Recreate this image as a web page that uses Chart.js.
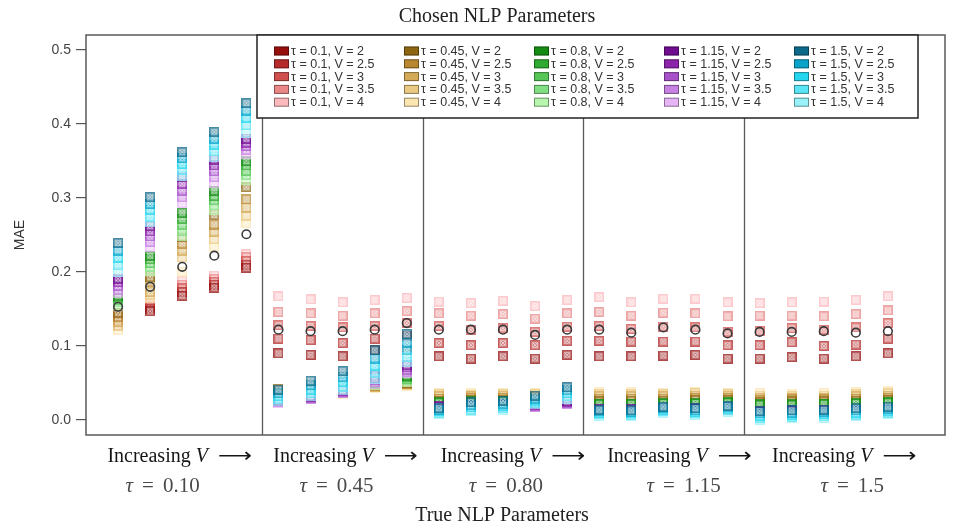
<!DOCTYPE html>
<html><head><meta charset="utf-8">
<script src="https://cdn.jsdelivr.net/npm/chart.js@4.4.1/dist/chart.umd.min.js"></script>
<style>html,body{margin:0;padding:0;background:#fff;} #wrap{width:957px;height:526px;}</style>
</head><body><div id="wrap"><canvas id="c" width="957" height="526"></canvas></div>
<script>
// ---------- DATA ----------
const tauValues = ['0.1', '0.45', '0.8', '1.15', '1.5'];       // chosen tau (legend)
const vValues = ['2', '2.5', '3', '3.5', '4'];                 // chosen V (legend)
const trueTauLabels = ['0.10', '0.45', '0.80', '1.15', '1.5']; // true tau (x groups)
const yTickValues = [0, 0.1, 0.2, 0.3, 0.4, 0.5];
// columns 0..24 : true tau group (5) x increasing true V (5)
// rows: chosen V = 2, 2.5, 3, 3.5, 4
const maeTau010 = [
  [0.128,0.147,0.168,0.179,0.206, 0.090,0.088,0.086,0.095,0.095, 0.086,0.083,0.086,0.083,0.088, 0.086,0.086,0.087,0.088,0.083, 0.083,0.085,0.083,0.086,0.090],
  [0.131,0.150,0.173,0.183,0.210, 0.110,0.108,0.104,0.110,0.113, 0.104,0.101,0.104,0.101,0.107, 0.107,0.106,0.106,0.106,0.101, 0.101,0.105,0.100,0.102,0.110],
  [0.134,0.153,0.178,0.187,0.215, 0.128,0.127,0.125,0.127,0.131, 0.127,0.122,0.124,0.119,0.126, 0.127,0.123,0.126,0.125,0.119, 0.120,0.124,0.122,0.125,0.131],
  [0.137,0.156,0.183,0.191,0.220, 0.146,0.144,0.141,0.144,0.147, 0.144,0.141,0.143,0.137,0.144, 0.146,0.141,0.145,0.144,0.140, 0.141,0.141,0.140,0.143,0.148],
  [0.140,0.159,0.188,0.195,0.224, 0.167,0.163,0.159,0.162,0.165, 0.160,0.158,0.161,0.154,0.162, 0.166,0.159,0.164,0.164,0.159, 0.158,0.159,0.160,0.162,0.167]
];
const maeTau045 = [
  [0.145,0.193,0.247,0.277,0.315, 0.042,0.040,0.042,0.048,0.050, 0.026,0.027,0.027,0.028,0.027, 0.025,0.026,0.026,0.027,0.027, 0.024,0.025,0.025,0.026,0.027],
  [0.139,0.187,0.238,0.264,0.298, 0.038,0.037,0.040,0.046,0.049, 0.029,0.030,0.030,0.031,0.030, 0.029,0.029,0.029,0.030,0.030, 0.027,0.028,0.028,0.029,0.030],
  [0.133,0.173,0.229,0.254,0.287, 0.035,0.035,0.038,0.045,0.048, 0.032,0.032,0.033,0.033,0.032, 0.032,0.032,0.032,0.033,0.033, 0.030,0.030,0.030,0.032,0.033],
  [0.127,0.169,0.220,0.244,0.276, 0.032,0.033,0.036,0.044,0.047, 0.035,0.034,0.035,0.035,0.034, 0.035,0.035,0.035,0.036,0.035, 0.033,0.032,0.033,0.035,0.036],
  [0.121,0.165,0.200,0.234,0.266, 0.030,0.031,0.035,0.043,0.046, 0.037,0.036,0.037,0.036,0.036, 0.038,0.038,0.037,0.038,0.036, 0.036,0.035,0.036,0.038,0.039]
];
const maeTau080 = [
  [0.168,0.222,0.280,0.310,0.350, 0.030,0.034,0.042,0.052,0.060, 0.024,0.025,0.025,0.026,0.027, 0.022,0.022,0.023,0.023,0.024, 0.021,0.021,0.022,0.023,0.024],
  [0.165,0.217,0.272,0.303,0.344, 0.029,0.033,0.040,0.050,0.058, 0.023,0.024,0.024,0.025,0.026, 0.021,0.021,0.022,0.022,0.023, 0.020,0.020,0.021,0.022,0.023],
  [0.162,0.212,0.264,0.297,0.337, 0.028,0.032,0.039,0.049,0.056, 0.022,0.023,0.023,0.024,0.025, 0.020,0.020,0.021,0.021,0.022, 0.019,0.019,0.020,0.021,0.022],
  [0.159,0.207,0.256,0.290,0.331, 0.027,0.031,0.038,0.048,0.054, 0.021,0.022,0.022,0.023,0.024, 0.019,0.019,0.020,0.020,0.021, 0.018,0.018,0.019,0.020,0.021],
  [0.156,0.202,0.248,0.284,0.325, 0.026,0.030,0.037,0.047,0.052, 0.020,0.021,0.021,0.022,0.023, 0.018,0.018,0.019,0.019,0.020, 0.017,0.017,0.018,0.019,0.020]
];
const maeTau115 = [
  [0.191,0.262,0.328,0.352,0.380, 0.027,0.032,0.040,0.060,0.074, 0.019,0.020,0.021,0.021,0.025, 0.015,0.015,0.016,0.016,0.017, 0.012,0.013,0.013,0.014,0.015],
  [0.186,0.255,0.319,0.344,0.375, 0.026,0.031,0.039,0.057,0.071, 0.018,0.019,0.020,0.020,0.024, 0.014,0.014,0.015,0.015,0.016, 0.011,0.012,0.012,0.013,0.014],
  [0.181,0.248,0.310,0.336,0.370, 0.025,0.030,0.038,0.054,0.068, 0.017,0.018,0.019,0.019,0.023, 0.013,0.013,0.014,0.014,0.015, 0.010,0.011,0.011,0.012,0.013],
  [0.176,0.241,0.301,0.328,0.365, 0.024,0.029,0.037,0.051,0.065, 0.016,0.017,0.018,0.018,0.022, 0.012,0.012,0.013,0.013,0.014, 0.009,0.010,0.010,0.011,0.012],
  [0.171,0.234,0.293,0.320,0.360, 0.023,0.028,0.036,0.049,0.063, 0.015,0.016,0.017,0.017,0.021, 0.011,0.011,0.012,0.012,0.013, 0.008,0.009,0.009,0.010,0.011]
];
const maeTau150 = [
  [0.239,0.301,0.362,0.389,0.428, 0.041,0.053,0.066,0.094,0.116, 0.016,0.024,0.026,0.033,0.044, 0.014,0.013,0.018,0.016,0.019, 0.012,0.013,0.014,0.016,0.018],
  [0.229,0.292,0.354,0.380,0.418, 0.036,0.047,0.058,0.083,0.104, 0.014,0.020,0.022,0.029,0.040, 0.012,0.011,0.016,0.013,0.017, 0.009,0.010,0.011,0.013,0.015],
  [0.219,0.284,0.346,0.372,0.408, 0.032,0.041,0.051,0.073,0.094, 0.012,0.017,0.019,0.026,0.036, 0.010,0.009,0.014,0.011,0.015, 0.006,0.007,0.008,0.010,0.012],
  [0.209,0.275,0.338,0.363,0.398, 0.028,0.036,0.045,0.064,0.085, 0.010,0.014,0.016,0.023,0.032, 0.008,0.007,0.012,0.009,0.013, 0.003,0.004,0.005,0.007,0.010],
  [0.200,0.267,0.330,0.355,0.388, 0.025,0.032,0.040,0.056,0.078, 0.008,0.012,0.014,0.021,0.029, 0.006,0.005,0.010,0.007,0.011, 0.000,0.002,0.003,0.005,0.008]
];
const maeTrueParams = [0.153,0.180,0.207,0.222,0.251, 0.122,0.120,0.120,0.122,0.131, 0.122,0.122,0.122,0.115,0.122, 0.122,0.118,0.125,0.122,0.117, 0.119,0.119,0.120,0.118,0.120];

// ---------- STYLE ----------
const palette = [
  ['#960e0e','#b52a2a','#d04f4f','#e98686','#fbb8bd'],
  ['#8e6612','#b8872f','#d4aa56','#eac983','#fbe5b0'],
  ['#148c14','#30aa30','#56c656','#82de82','#b7f6af'],
  ['#700c90','#8c24ac','#a852ca','#c681e2','#e7b5f6'],
  ['#0c6888','#0aa4ca','#24d6ef','#5ae4f4','#98f2f8']
];
const families = [maeTau010, maeTau045, maeTau080, maeTau115, maeTau150];

function makeMarker(color) {
  const s = 10, c = document.createElement('canvas');
  c.width = s; c.height = s;
  const g = c.getContext('2d');
  g.globalAlpha = 0.62; g.fillStyle = color; g.fillRect(0, 0, s, s);
  g.globalAlpha = 0.6; g.strokeStyle = '#ffffff'; g.lineWidth = 1;
  g.beginPath(); g.moveTo(2, 2); g.lineTo(8, 8); g.moveTo(8, 2); g.lineTo(2, 8); g.stroke();
  g.beginPath(); g.arc(5, 5, 2.6, 0, Math.PI * 2); g.stroke();
  g.globalAlpha = 0.35; g.strokeStyle = color; g.strokeRect(0.5, 0.5, s - 1, s - 1);
  return c;
}

const datasets = [{
  label: 'True parameters',
  data: maeTrueParams.map((y, j) => ({x: j, y})),
  pointStyle: 'circle', pointRadius: 4.3, borderColor: '#3a3a3a', borderWidth: 1.6,
  backgroundColor: 'rgba(255,255,255,0)', order: 0, isTrue: true
}];
families.forEach((fam, f) => fam.forEach((vals, v) => {
  datasets.push({
    label: `τ = ${tauValues[f]}, V = ${vValues[v]}`,
    data: vals.map((y, j) => ({x: j, y})),
    pointStyle: makeMarker(palette[f][v]), pointRadius: 5,
    backgroundColor: palette[f][v], borderColor: palette[f][v],
    order: 5 - f, fam: f, vIdx: v
  });
}));

const SERIF = '"Liberation Serif", "Times New Roman", serif';
const SANS = '"Liberation Sans", Arial, sans-serif';

const decorPlugin = {
  id: 'decor',
  beforeDatasetsDraw(chart) {
    const {ctx, chartArea: a, scales: {x}} = chart;
    ctx.save();
    ctx.strokeStyle = '#5a5a5a'; ctx.lineWidth = 1.3;
    [4.5, 9.5, 14.5, 19.5].forEach(v => {
      const px = Math.round(x.getPixelForValue(v)) + 0.5;
      ctx.beginPath(); ctx.moveTo(px, a.top); ctx.lineTo(px, a.bottom); ctx.stroke();
    });
    ctx.restore();
  },
  afterDraw(chart) {
    const {ctx, chartArea: a, scales: {x}} = chart;
    ctx.save();
    // frame
    ctx.strokeStyle = '#5a5a5a'; ctx.lineWidth = 1.5;
    ctx.strokeRect(a.left, a.top, a.right - a.left, a.bottom - a.top);
    // legend box
    const lx = 257, ly = a.top, lw = 661, lh = 83;
    ctx.fillStyle = '#ffffff'; ctx.fillRect(lx, ly, lw, lh);
    ctx.strokeStyle = '#222'; ctx.lineWidth = 1.5; ctx.strokeRect(lx, ly, lw, lh);
    ctx.font = `12.5px ${SANS}`; ctx.textBaseline = 'middle'; ctx.textAlign = 'left';
    chart.data.datasets.forEach(ds => {
      if (ds.isTrue) return;
      const cx = 274 + 130 * ds.fam, cy = ly + 16 + 12.8 * ds.vIdx;
      ctx.fillStyle = ds.backgroundColor;
      ctx.fillRect(cx, cy - 4.5, 15, 9);
      ctx.strokeStyle = 'rgba(0,0,0,0.4)'; ctx.lineWidth = 1;
      ctx.strokeRect(cx + 0.5, cy - 4, 14, 8);
      ctx.fillStyle = '#333';
      ctx.fillText(ds.label, cx + 17, cy + 0.5);
    });
    // titles
    ctx.fillStyle = '#222'; ctx.textAlign = 'center'; ctx.textBaseline = 'alphabetic';
    ctx.font = `20px ${SERIF}`;
    ctx.fillText('Chosen NLP Parameters', 497, 22);
    ctx.fillText('True NLP Parameters', 502, 521);
    // group labels
    const incAnchors = [1.92, 7.09, 12.31, 17.50, 22.64];
    const tauAnchors = [1.39, 6.81, 12.09, 17.63, 22.89];
    incAnchors.forEach((u, p) => {
      const cxp = x.getPixelForValue(u);
      const segs = [
        {t: 'Increasing ', f: `20px ${SERIF}`, gap: 0},
        {t: 'V', f: `italic 20px ${SERIF}`, gap: 10},
        {t: '\u27F6', f: `20px "DejaVu Sans", sans-serif`, w: 34, gap: 0}
      ];
      let total = 0;
      segs.forEach(s => { ctx.font = s.f; s.mw = ctx.measureText(s.t).width; s.dw = s.w || s.mw; total += s.dw + s.gap; });
      let cur = cxp - total / 2;
      ctx.textAlign = 'left'; ctx.fillStyle = '#151515';
      segs.forEach(s => {
        ctx.font = s.f;
        if (s.w) {
          ctx.save(); ctx.translate(cur, 462); ctx.scale(s.w / s.mw, 1);
          ctx.fillText(s.t, 0, 0); ctx.restore();
        } else ctx.fillText(s.t, cur, 462);
        cur += s.dw + s.gap;
      });
      // tau label
      const tx = x.getPixelForValue(tauAnchors[p]);
      const tsegs = [
        {t: 'τ', f: `italic 21px ${SERIF}`, gap: 9},
        {t: '=', f: `21px ${SERIF}`, gap: 9},
        {t: trueTauLabels[p], f: `21px ${SERIF}`, gap: 0}
      ];
      let tt = 0;
      tsegs.forEach(s => { ctx.font = s.f; s.mw = ctx.measureText(s.t).width; tt += s.mw + s.gap; });
      let tc = tx - tt / 2;
      ctx.fillStyle = '#4a4a4a';
      tsegs.forEach(s => { ctx.font = s.f; ctx.fillText(s.t, tc, 492); tc += s.mw + s.gap; });
    });
    ctx.restore();
  }
};

new Chart(document.getElementById('c'), {
  type: 'scatter',
  data: {datasets},
  options: {
    responsive: false, animation: false, events: [],
    layout: {padding: {top: 35, right: 12, bottom: 91, left: 0}},
    plugins: {legend: {display: false}, tooltip: {enabled: false}, title: {display: false}},
    scales: {
      x: {type: 'linear', min: -1.0, max: 25.78, display: false},
      y: {
        type: 'linear', min: -0.0203, max: 0.5203,
        afterBuildTicks: s => { s.ticks = yTickValues.map(v => ({value: v})); },
        afterFit: s => { s.width = 86; },
        ticks: {callback: v => v.toFixed(1), font: {family: SANS, size: 14}, color: '#444', padding: 5},
        grid: {drawOnChartArea: false, drawTicks: true, tickLength: 10, tickColor: '#555', lineWidth: 1.2},
        border: {display: false},
        title: {display: true, text: 'MAE', font: {family: SANS, size: 14}, color: '#333', padding: {top: 12, bottom: 0}}
      }
    }
  },
  plugins: [decorPlugin]
});
</script>
</body></html>
